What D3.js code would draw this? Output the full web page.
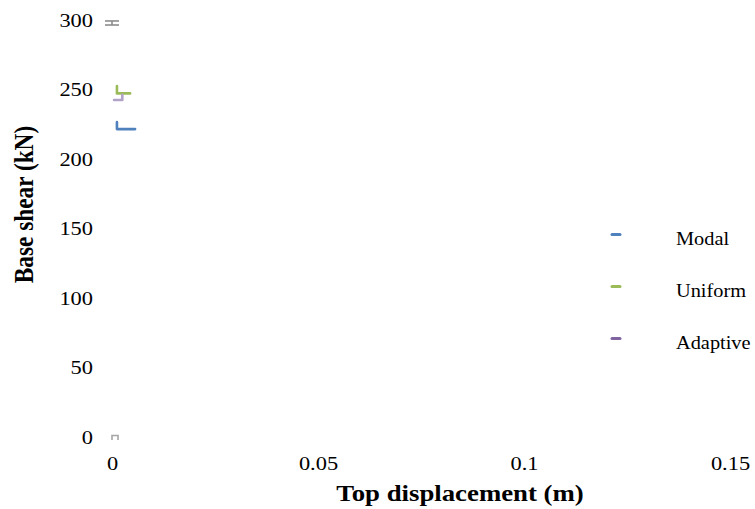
<!DOCTYPE html>
<html>
<head>
<meta charset="utf-8">
<script src="https://cdn.jsdelivr.net/npm/d3@7"></script>
<style>
  html, body { margin: 0; padding: 0; background: #fff; }
  svg { display: block; }
</style>
</head>
<body>
<svg id="chart" width="755" height="509"></svg>
<script>
// ---- data ----
const xTicks = [0, 0.05, 0.1, 0.15];
const xTickLabels = ["0", "0.05", "0.1", "0.15"];
const yTicks = [0, 50, 100, 150, 200, 250, 300];
const seriesNames = ["Modal", "Uniform", "Adaptive"];
const seriesColors = ["#4f81bd", "#9bbb59", "#8064a2"];
// curve points [displacement (m), base shear (kN)]
const modalPts = [[0.0012, 226.5], [0.0012, 221.5], [0.0056, 221.5]];
const uniformPts = [[0.0012, 252.5], [0.0012, 247.2], [0.0044, 247.2]];
const adaptivePts = [[0.0005, 242.4], [0.0025, 242.4], [0.0025, 246.2]];
// gray error-bar marks
const barTopPts = [[0, 296.4], [0, 299.3]];
const barTopCapX = [-0.0017, 0.0017];
const barTopCapY = [296.4, 299.3];
const barBottomPts = [[0, -2.2], [0, 1.1], [0.00146, 1.1], [0.00146, -2.2]];

// ---- layout ----
const svg = d3.select("#chart");
const x = d3.scaleLinear().domain([0, 0.15]).range([112, 730]);
const y = d3.scaleLinear().domain([0, 300]).range([437, 20]);
const font = "'Liberation Serif', 'Times New Roman', serif";
const SX = 1.15; // horizontal stretch of the text glyphs

// y tick labels
const yAxis = d3.axisLeft(y).tickValues(yTicks).tickSize(0).tickPadding(0).tickFormat(d3.format("d"));
const gy = svg.append("g").attr("transform", "translate(93,0)").call(yAxis);
gy.select(".domain").remove();
gy.selectAll("text").attr("font-family", font).attr("font-size", 19.5).attr("fill", "#000")
  .attr("x", 0).attr("transform", `scale(${SX},1)`);

// x tick labels
const xAxis = d3.axisBottom(x).tickValues(xTicks).tickSize(0).tickPadding(0)
  .tickFormat((d, i) => xTickLabels[i]);
const gx = svg.append("g").attr("transform", "translate(0,456)").call(xAxis);
gx.select(".domain").remove();
gx.selectAll("text").attr("font-family", font).attr("font-size", 19.5).attr("fill", "#000")
  .attr("transform", `scale(${SX},1)`);

// axis titles
svg.append("text")
  .attr("transform", `translate(460,501) scale(${SX},1)`)
  .attr("text-anchor", "middle")
  .attr("font-family", font).attr("font-weight", "bold").attr("font-size", 23.3)
  .text("Top displacement (m)");
svg.append("text")
  .attr("transform", `translate(33,204.5) rotate(-90) scale(1,${SX})`)
  .attr("text-anchor", "middle")
  .attr("font-family", font).attr("font-weight", "bold").attr("font-size", 23.3)
  .text("Base shear (kN)");

const line = d3.line().x(d => x(d[0])).y(d => y(d[1]));

// gray marks
svg.append("path").attr("d", line(barTopPts)).attr("fill", "none")
  .attr("stroke", "#8c8c8c").attr("stroke-width", 1.6);
barTopCapY.forEach(v => {
  svg.append("path").attr("d", line(barTopCapX.map(xx => [xx, v])))
    .attr("fill", "none").attr("stroke", "#8c8c8c").attr("stroke-width", 1.6);
});
svg.append("path").attr("d", line(barBottomPts)).attr("fill", "none")
  .attr("stroke", "#a6a6a6").attr("stroke-width", 1.6);

// series curves
const curves = [modalPts, uniformPts, adaptivePts];
const curveColors = [seriesColors[0], seriesColors[1], "#b3a2c7"];
curves.forEach((pts, i) => {
  svg.append("path").attr("d", line(pts)).attr("fill", "none")
    .attr("stroke", curveColors[i]).attr("stroke-width", 2.6)
    .attr("stroke-linejoin", "round").attr("stroke-linecap", "round");
});

// legend
const legend = svg.append("g");
seriesNames.forEach((name, i) => {
  const cy = 234.5 + i * 52;
  legend.append("line").attr("x1", 612).attr("x2", 620).attr("y1", cy).attr("y2", cy)
    .attr("stroke", seriesColors[i]).attr("stroke-width", 3).attr("stroke-linecap", "round");
  legend.append("text").attr("transform", `translate(676,${cy + 10}) scale(1.1,1)`)
    .attr("font-family", font).attr("font-size", 18.5).attr("fill", "#000").text(name);
});
</script>
</body>
</html>
